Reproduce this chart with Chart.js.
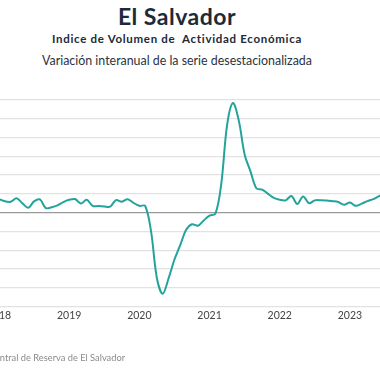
<!DOCTYPE html>
<html lang="es">
<head>
<meta charset="utf-8">
<title>El Salvador - IVAE</title>
<script src="https://cdn.jsdelivr.net/npm/chart.js@4.4.0/dist/chart.umd.min.js"></script>
<style>
  html, body { margin: 0; padding: 0; background: #fff; }
  #wrap { position: relative; width: 380px; height: 380px; overflow: hidden; font-family: Lato, "Noto Sans", sans-serif; }
  #chart { position: absolute; left: -40px; top: 0; }
  .t { position: absolute; left: 0; width: 354px; text-align: center; white-space: nowrap; }
  #title { top: 5px; font-size: 23px; line-height: 23px; font-weight: bold; letter-spacing: 0.5px; color: #1c2a3a; }
  #sub1 { top: 33px; font-size: 11.5px; line-height: 12px; font-weight: bold; letter-spacing: 0.7px; color: #1c2a3a; }
  #sub2 { top: 54px; font-size: 12.4px; line-height: 13px; color: #2a3340; }
  #source { position: absolute; left: -72px; top: 353px; font-size: 9.3px; line-height: 10px; color: #8a8a8a; white-space: nowrap; }
</style>
</head>
<body>
<div id="wrap">
  <div class="t" id="title">El Salvador</div>
  <div class="t" id="sub1">Indice de Volumen de&nbsp; Actividad Económica</div>
  <div class="t" id="sub2">Variación interanual de la serie desestacionalizada</div>
  <canvas id="chart" width="440" height="380"></canvas>
  <div id="source">Fuente: Banco Central de Reserva de El Salvador</div>
</div>
<script>
// años (etiquetas del eje x, una por enero)
const years = ['2018', '2019', '2020', '2021', '2022', '2023'];

// variación interanual (%), mensual
const v2018 = [3.6, 3.0, 2.9, 3.8, 2.5, 1.3, 3.0, 3.5, 1.2, 1.4, 1.9, 2.8];
const v2019 = [3.4, 3.6, 2.4, 3.4, 1.8, 1.75, 1.65, 1.6, 3.3, 2.9, 3.55, 2.6];
const v2020 = [1.8, 1.75, -5.0, -17.5, -21.6, -17.5, -12.5, -8.6, -4.6, -3.1, -3.5, -2.1];
const v2021 = [-0.8, -0.3, 7.6, 23.3, 29.2, 24.5, 15.5, 11.0, 6.5, 6.1, 5.0, 3.9];
const v2022 = [3.4, 3.25, 4.4, 2.3, 4.3, 2.5, 3.25, 3.3, 3.25, 3.05, 2.8, 2.1];
const v2023 = [2.7, 1.8, 2.4, 3.05, 3.6, 4.4, 5.0];

const values = [...v2018, ...v2019, ...v2020, ...v2021, ...v2022, ...v2023];
const labels = values.map((_, i) => years[Math.floor(i / 12)] + '-' + String(i % 12 + 1).padStart(2, '0'));

new Chart(document.getElementById('chart'), {
    type: 'line',
    data: {
        labels: labels,
        datasets: [{
            data: values,
            borderColor: '#22a39c',
            borderWidth: 2,
            pointRadius: 0,
            tension: 0.35,
            fill: false
        }]
    },
    options: {
        responsive: false,
        animation: false,
        layout: { padding: { left: 39, right: 15, top: 100, bottom: 55 } },
        plugins: { legend: { display: false }, tooltip: { enabled: false } },
        scales: {
            x: {
                offset: false,
                grid: { display: false, drawTicks: false },
                border: { display: false },
                ticks: {
                    autoSkip: false,
                    maxRotation: 0,
                    minRotation: 0,
                    padding: 3,
                    color: '#444',
                    font: { family: 'Lato', size: 10.5 },
                    callback: (val, i) => (i % 12 === 0 ? years[i / 12] : '')
                }
            },
            y: {
                min: -25,
                max: 30,
                ticks: { stepSize: 5, display: false },
                grid: {
                    drawTicks: false,
                    lineWidth: 1.2,
                    color: ctx => (ctx.tick && ctx.tick.value === 0 ? '#9a9a9a' : '#e2e2e2')
                },
                border: { display: false }
            }
        }
    }
});
</script>
</body>
</html>
